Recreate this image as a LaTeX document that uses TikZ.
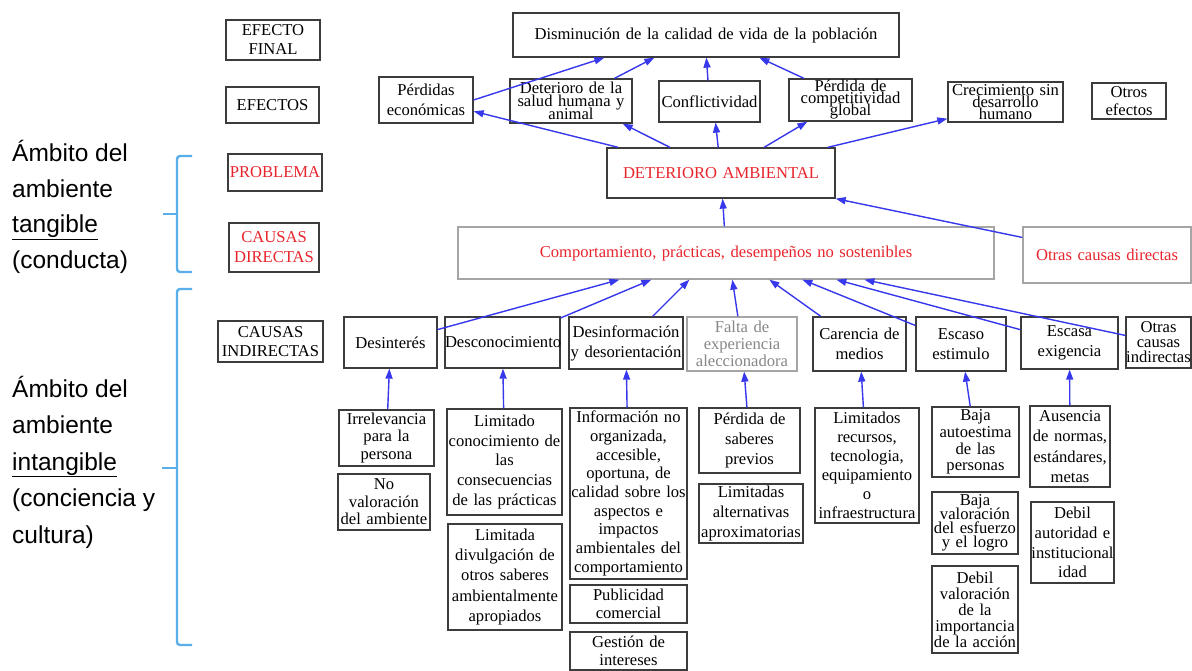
\documentclass[tikz,border=0pt]{standalone}
\usepackage{fontspec}
\setmainfont{Liberation Serif}
\newfontfamily\sansf{Liberation Sans}
\usetikzlibrary{arrows.meta,calc}
\definecolor{myred}{RGB}{232,36,44}
\definecolor{boxc}{RGB}{60,60,60}
\definecolor{grayb}{RGB}{165,165,165}
\definecolor{grayt}{RGB}{135,135,135}
\definecolor{linec}{RGB}{55,55,235}
\definecolor{bracec}{RGB}{90,175,235}
\newcommand\bxfont{\fontsize{16.6}{19.5}\selectfont\hyphenpenalty=10000 \exhyphenpenalty=10000 \lineskiplimit=-40pt\relax}
\begin{document}
\begin{tikzpicture}[x=1pt,y=-1pt,
  bx/.style={draw=boxc, line width=1.3pt, fill=white, align=center, inner sep=0pt, font=\bxfont},
  sz/.style 2 args={text width=#1pt, minimum height=#2pt},
  lsp/.style={font={\bxfont\fontsize{16.6}{#1}\selectfont}},
  conn/.style={draw=linec, line width=1.4pt, -{Triangle[length=10pt,width=7pt]}},
  brace/.style={draw=bracec, line width=2.4pt, rounded corners=3pt},
  lbl/.style={align=left, inner sep=0pt, font={\sansf\fontsize{24.5}{35.5}\selectfont}}]
\useasboundingbox (0,0) rectangle (1192,671);
\fill[white] (0,0) rectangle (1192,671);

% left labels
\node[lbl, anchor=base west] (amb1) at (12,268.5) {Ámbito del\\ambiente\\\underline{tangible}\\(conducta)};
\node[lbl, anchor=base west, font={\sansf\fontsize{24.5}{36.5}\selectfont}] (amb2) at (12,543) {Ámbito del\\ambiente\\\underline{intangible}\\(conciencia y\\cultura)};
\draw[brace] (192,156) -- (177,156) -- (177,272) -- (192,272);
\draw[brace] (177,214) -- (163,214);
\draw[brace] (192,289) -- (177,289) -- (177,645) -- (192,645);
\draw[brace] (177,468) -- (162,468);

% level labels
\node[bx, sz={94}{40}, lsp=19] (ef) at (273,40) {EFECTO\\FINAL};
\node[bx, sz={93}{36}] (efs) at (272.5,105) {EFECTOS};
\node[bx, sz={94}{37}, text=myred] (prob) at (275,172.5) {PROBLEMA};
\node[bx, sz={90}{49}, text=myred, lsp=20] (cdir) at (274,247.5) {CAUSAS\\DIRECTAS};
\node[bx, sz={105}{41}, lsp=19] (cind) at (270.5,341.5) {CAUSAS\\INDIRECTAS};

% effects
\node[bx, sz={386}{44}] (dism) at (706,35) {Disminución de la calidad de vida de la población};
\node[bx, sz={94}{46}, lsp=20] (perd) at (426,100) {Pérdidas\\económicas};
\node[bx, sz={122}{44}, lsp=13] (salud) at (571,101) {Deterioro~de~la\\salud~humana~y\\animal};
\node[bx, sz={101}{41}] (conf) at (709.5,101.5) {Conflictividad};
\node[bx, sz={123}{42}, lsp=12] (compet) at (850.5,100) {Pérdida de\\competitividad\\global};
\node[bx, sz={115}{40}, lsp=12] (crec) at (1005.5,102) {Crecimiento~sin\\desarrollo\\humano};
\node[bx, sz={74}{36}, lsp=18] (otef) at (1129,101) {Otros\\efectos};

% problem and direct causes
\node[bx, sz={228}{50}, text=myred] (det) at (721,173) {DETERIORO~AMBIENTAL};
\node[bx, sz={536}{52}, text=myred, draw=grayb] (comp) at (726,253) {Comportamiento, prácticas, desempeños no sostenibles};
\node[bx, sz={168}{56}, text=myred, draw=grayb] (ocd) at (1107,255) {Otras~causas~directas};

% indirect causes
\node[bx, sz={93}{51}] (desint) at (390.5,342.5) {Desinterés};
\node[bx, sz={115}{51}] (descon) at (502.5,342.5) {Desconocimiento};
\node[bx, sz={114}{52}, lsp=20] (desinf) at (626,343) {Desinformación\\y~desorientación};
\node[bx, sz={110}{54}, lsp=17, draw=grayb, text=grayt] (falta) at (742,344) {Falta~de\\experiencia\\aleccionadora};
\node[bx, sz={93}{54}, lsp=20] (caren) at (859.5,344) {Carencia~de\\medios};
\node[bx, sz={90}{54}, lsp=20] (escaso) at (961,344) {Escaso\\estimulo};
\node[bx, sz={97}{52}, lsp=20] (escasa) at (1069.5,343) {Escasa\\exigencia};
\node[bx, sz={65}{51}, lsp=15] (oci) at (1158.5,342.5) {Otras\\causas\\indirectas};

% lower boxes
\node[bx, sz={95}{56}, lsp=17.8] (irrel) at (386.5,438) {Irrelevancia\\para~la\\persona};
\node[bx, sz={92}{56}, lsp=17.5] (noval) at (384,502) {No\\valoración\\del~ambiente};
\node[bx, sz={115}{106}, lsp=19.7] (limcon) at (504.5,462) {Limitado\\conocimiento~de\\las\\consecuencias\\de~las~prácticas};
\node[bx, sz={114}{106}, lsp=20.3] (limdiv) at (505,577) {Limitada\\divulgación~de\\otros~saberes\\ambientalmente\\apropiados};
\node[bx, sz={117}{171}, lsp=18.7] (info) at (628.5,493.5) {Información~no\\organizada,\\accesible,\\oportuna,~de\\calidad~sobre~los\\aspectos~e\\impactos\\ambientales~del\\comportamiento};
\node[bx, sz={117}{38}, lsp=18.3] (publ) at (628.5,604) {Publicidad\\comercial};
\node[bx, sz={117}{38}, lsp=18.3] (gest) at (628.5,651) {Gestión~de\\intereses};
\node[bx, sz={101}{65}, lsp=20] (persab) at (749.5,440.5) {Pérdida~de\\saberes\\previos};
\node[bx, sz={104}{59}, lsp=19.7] (limalt) at (751,513.5) {Limitadas\\alternativas\\aproximatorias};
\node[bx, sz={104}{115}, lsp=18.9] (limrec) at (867,465.5) {Limitados\\recursos,\\tecnologia,\\equipamiento\\o\\infraestructura};
\node[bx, sz={87}{70}, lsp=16.7] (bajaaut) at (975.5,442) {Baja\\autoestima\\de~las\\personas};
\node[bx, sz={86}{62}, lsp=14] (bajaval) at (975,523) {Baja\\valoración\\del~esfuerzo\\y~el~logro};
\node[bx, sz={86}{87}, lsp=16] (debval) at (975,609.5) {Debil\\valoración\\de~la\\importancia\\de~la~acción};
\node[bx, sz={80}{81}, lsp=20.3] (ausen) at (1070,446.5) {Ausencia\\de~normas,\\estándares,\\metas};
\node[bx, sz={83}{81}, lsp=19.7] (debaut) at (1072.5,542.5) {Debil\\autoridad~e\\institucional\\idad};

% connectors: lower -> indirect
\draw[conn] (irrel) -- (desint);
\draw[conn] (limcon) -- (descon);
\draw[conn] (info) -- (desinf);
\draw[conn] (persab) -- (falta);
\draw[conn] (limrec) -- (caren);
\draw[conn] (bajaaut) -- (escaso);
\draw[conn] (ausen) -- (escasa);

% indirect -> comportamiento
\draw[conn] (desint) -- ($(comp.south west)+(162,0)$);
\draw[conn] (descon) -- ($(comp.south west)+(194,0)$);
\draw[conn] (desinf) -- ($(comp.south west)+(232,0)$);
\draw[conn] (falta) -- ($(comp.south west)+(275,0)$);
\draw[conn] (caren) -- ($(comp.south west)+(312,0)$);
\draw[conn] (escaso) -- ($(comp.south west)+(345,0)$);
\draw[conn] (escasa) -- ($(comp.south west)+(379,0)$);
\draw[conn] (oci) -- ($(comp.south west)+(407,0)$);

% direct causes -> problem
\draw[conn] (comp) -- (det);
\draw[conn] (ocd) -- (det.south east);

% problem -> effects
\draw[conn] (det) -- ($(perd.north east)+(0,35)$);
\draw[conn] (det) -- ($(salud.south east)+(-10,0)$);
\draw[conn] (det) -- ($(conf.south)+(6,0)$);
\draw[conn] (det) -- ($(compet.south west)+(19,0)$);
\draw[conn] (det) -- ($(crec.south west)+(0,-4)$);

% effects -> final effect
\draw[conn] (perd.east) -- ($(dism.south west)+(92,0)$);
\draw[conn] (salud) -- ($(dism.south west)+(142,0)$);
\draw[conn] (conf) -- ($(dism.south west)+(194,0)$);
\draw[conn] (compet) -- ($(dism.south west)+(247,0)$);
\end{tikzpicture}
\end{document}
